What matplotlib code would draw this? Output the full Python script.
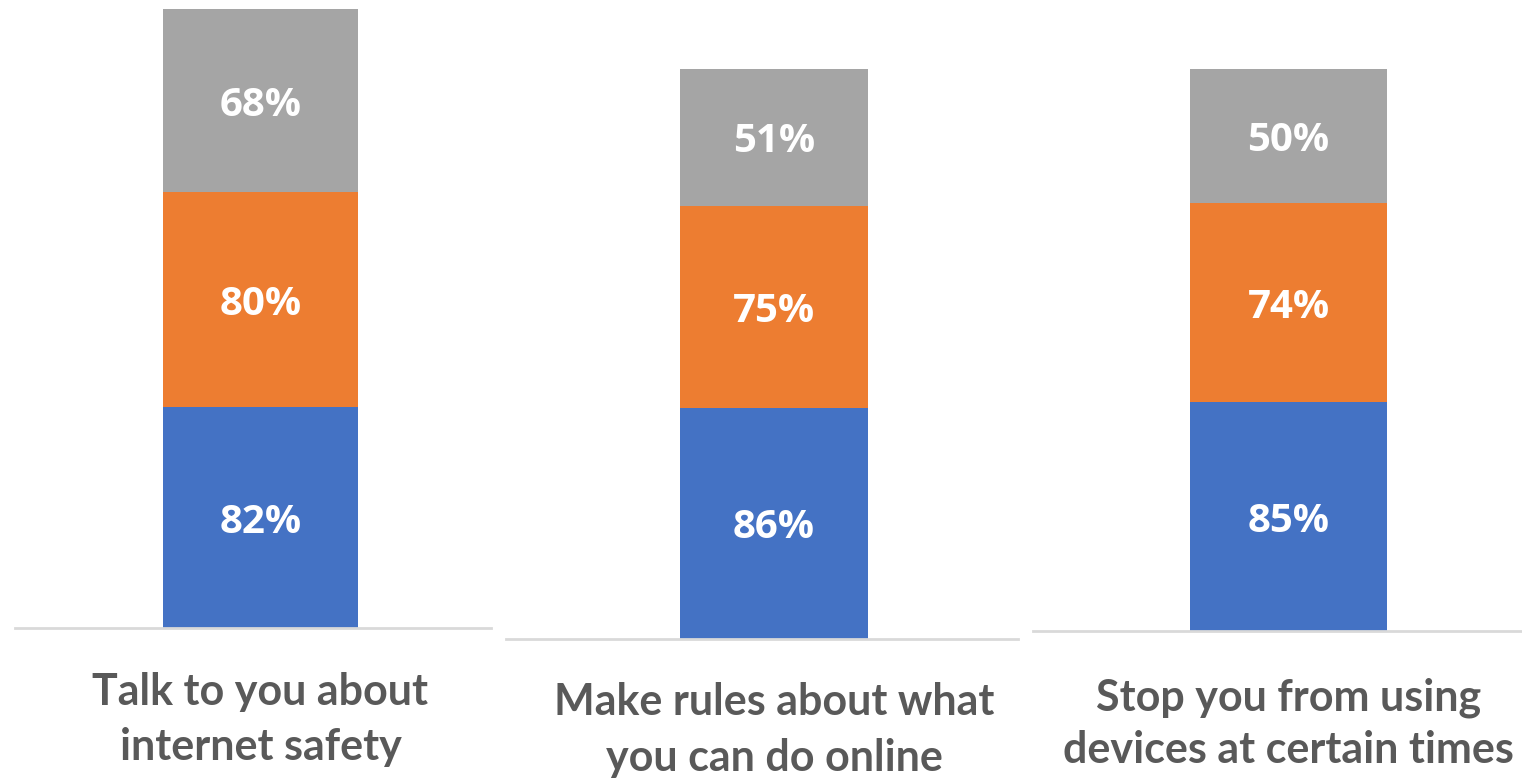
import matplotlib.pyplot as plt

categories = ["Talk to you about\ninternet safety",
              "Make rules about what\nyou can do online",
              "Stop you from using\ndevices at certain times"]
blue_vals = [82, 86, 85]
orange_vals = [80, 75, 74]
gray_vals = [68, 51, 50]

colors = ["#4472C4", "#ED7D31", "#A5A5A5"]
text_grey = "#595959"

W, H = 1522, 779
fig = plt.figure(figsize=(W / 100, H / 100), dpi=100)

# pixel layout of each panel: line left/right, baseline y, bar left/right, label baselines
panels = [
    (15, 491, 628, 163, 358, (705, 760)),
    (506, 1018, 639, 680, 868, (715, 771)),
    (1033, 1522, 631, 1190, 1387, (710, 763)),
]
ppu = 2.69  # pixels per percentage point

for i, (l, r, base, bl, br, lab_y) in enumerate(panels):
    ax = fig.add_axes([l / W, (H - base) / H, (r - l) / W, base / H])
    bw = br - bl
    bc = (bl + br) / 2
    ax.set_xlim((l - bc) / bw, (r - bc) / bw)
    ax.set_ylim(0, base / ppu)
    vals = [blue_vals[i], orange_vals[i], gray_vals[i]]
    bottom = 0
    for v, c in zip(vals, colors):
        ax.bar(0, v, width=1, bottom=bottom, color=c, edgecolor="none")
        ax.text(0, bottom + v / 2, f"{v}%", ha="center", va="center_baseline",
                color="white", fontsize=29, fontweight="bold", family="Open Sans")
        bottom += v
    for s in ["top", "left", "right"]:
        ax.spines[s].set_visible(False)
    ax.spines["bottom"].set_color("#D9D9D9")
    ax.spines["bottom"].set_linewidth(2)
    ax.set_xticks([])
    ax.set_yticks([])
    ax.patch.set_alpha(0)
    for line, y in zip(categories[i].split("\n"), lab_y):
        fig.text(bc / W, 1 - y / H, line, ha="center", va="baseline",
                 color=text_grey, fontsize=31, fontweight="bold", family="Lato")

fig.savefig("out.png", dpi=100)
